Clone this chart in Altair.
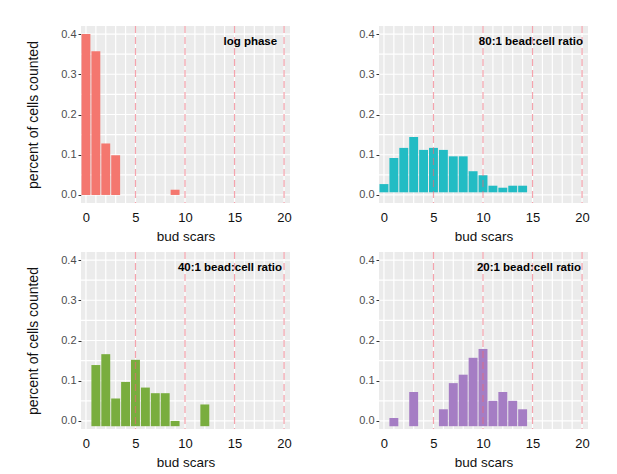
import altair as alt
import pandas as pd

# ---- data ----
panel_names = ["log phase", "80:1 bead:cell ratio", "40:1 bead:cell ratio", "20:1 bead:cell ratio"]
panel_colors = ["#F4776F", "#22BCC4", "#79AD3E", "#A57DC4"]

log_x = [0, 1, 2, 3, 9]
log_y = [0.400, 0.357, 0.128, 0.099, 0.013]

r80_x = [0, 1, 2, 3, 4, 5, 6, 7, 8, 9, 10, 11, 12, 13, 14]
r80_y = [0.027, 0.092, 0.117, 0.144, 0.112, 0.117, 0.112, 0.096, 0.096, 0.059, 0.049, 0.023, 0.018, 0.023, 0.023]

r40_x = [1, 2, 3, 4, 5, 6, 7, 8, 9, 12]
r40_y = [0.139, 0.166, 0.056, 0.097, 0.152, 0.083, 0.069, 0.069, 0.000, 0.041]

r20_x = [1, 3, 6, 7, 8, 9, 10, 11, 12, 13, 14]
r20_y = [0.0075, 0.072, 0.029, 0.094, 0.115, 0.157, 0.179, 0.050, 0.072, 0.050, 0.029]

# bar baselines as drawn in each panel of the reference
panel_base = [0.0, 0.0066, -0.013, -0.013]
label_x = [19.3, 20.1, 19.8, 19.9]
label_y = 0.38

dashed_x = [5, 10, 15, 20]
grid_x = [0, 1, 2, 3, 4, 5, 6, 7, 8, 9, 10, 11, 12, 13, 14, 15, 16, 17, 18, 19, 20]
grid_y = [0.0, 0.05, 0.1, 0.15, 0.2, 0.25, 0.3, 0.35, 0.4]
x_ticks = [0, 5, 10, 15, 20]
y_ticks = [0.0, 0.1, 0.2, 0.3, 0.4]

X_DOM = [-0.5, 20.6]
Y_DOM = [-0.02, 0.42]
W, H = 209, 177
FONT = "Liberation Sans"


def panel(i, xs, ys, left):
    xscale = alt.Scale(domain=X_DOM, nice=False, zero=False)
    yscale = alt.Scale(domain=Y_DOM, nice=False, zero=False)
    xaxis = alt.Axis(values=x_ticks, grid=False, ticks=False, domain=False, labelOverlap=False,
                     labelFontSize=13, labelColor="#111111", labelPadding=8,
                     title="bud scars", titleFontSize=13.5, titleFontWeight="normal",
                     titleColor="#111111", titlePadding=5, labelFont=FONT, titleFont=FONT)
    yaxis = alt.Axis(values=y_ticks, format=".1f", grid=False, domain=False, labelOverlap=False,
                     tickSize=3, tickColor="#333333", labelColor="#4D4D4D",
                     labelFontSize=11, labelPadding=2, labelFont=FONT,
                     title="percent of cells counted" if left else None,
                     titleFontSize=14, titleFontWeight="normal", titleColor="#111111",
                     titlePadding=20, titleFont=FONT)

    gx = alt.Chart(pd.DataFrame({"gx": grid_x})).mark_rule(color="#FFFFFF", strokeWidth=1.2).encode(
        x=alt.X("gx:Q", scale=xscale, axis=xaxis))
    gy = alt.Chart(pd.DataFrame({"gy": grid_y})).mark_rule(color="#FFFFFF", strokeWidth=1.2).encode(
        y=alt.Y("gy:Q", scale=yscale, axis=yaxis))

    bars_df = pd.DataFrame({"x": xs, "top": ys, "base": [panel_base[i]] * len(xs)})
    bars = alt.Chart(bars_df).transform_calculate(
        x0="datum.x - 0.45", x1="datum.x + 0.45"
    ).mark_bar(color=panel_colors[i]).encode(
        x=alt.X("x0:Q", scale=xscale, axis=xaxis),
        x2="x1:Q",
        y=alt.Y("top:Q", scale=yscale, axis=yaxis),
        y2="base:Q",
    )

    dashed = alt.Chart(pd.DataFrame({"dx": dashed_x})).mark_rule(
        color="#EE6677", opacity=0.6, strokeWidth=1.2, strokeDash=[7, 4]
    ).encode(x=alt.X("dx:Q", scale=xscale, axis=xaxis))

    txt = alt.Chart(pd.DataFrame({"lx": [label_x[i]], "ly": [label_y], "t": [panel_names[i]]})).mark_text(
        align="right", baseline="middle", fontWeight="bold", fontSize=11.5, font=FONT, color="#000000"
    ).encode(
        x=alt.X("lx:Q", scale=xscale, axis=xaxis),
        y=alt.Y("ly:Q", scale=yscale, axis=yaxis),
        text="t:N",
    )

    return alt.layer(gx, gy, bars, dashed, txt).properties(width=W, height=H)


p1 = panel(0, log_x, log_y, True)
p2 = panel(1, r80_x, r80_y, False)
p3 = panel(2, r40_x, r40_y, True)
p4 = panel(3, r20_x, r20_y, False)

row1 = alt.hconcat(p1, p2, spacing=66)
row2 = alt.hconcat(p3, p4, spacing=66)

chart = alt.vconcat(row1, row2, spacing=8).properties(
    padding={"left": 18, "top": 17, "right": 5, "bottom": 5}
).configure(
    font=FONT, background="white"
).configure_view(
    fill="#EBEBEB", stroke=None
)

chart.save("out.html", embed_options={"renderer": "svg", "actions": False})
